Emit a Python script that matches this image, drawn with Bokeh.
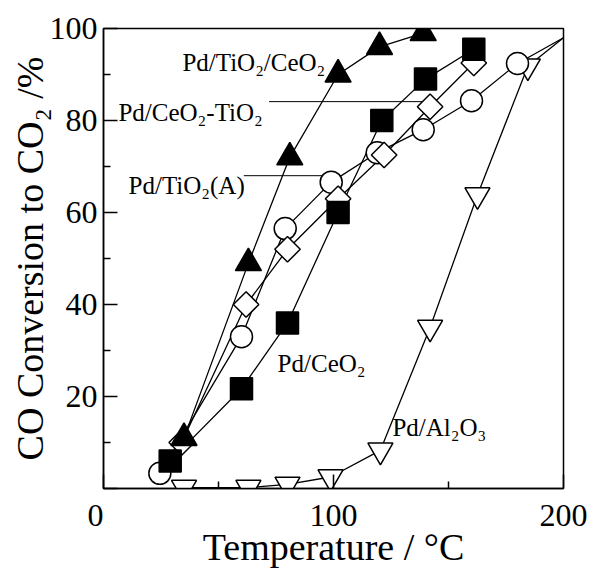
import numpy as np
from bokeh.plotting import figure
from bokeh.models import FixedTicker, Label, Range1d
from bokeh.embed import file_html
from bokeh.resources import INLINE

# ---------------- data ----------------
# Pd/TiO2/CeO2 (filled triangles)
t_tc = [35, 63, 81, 102, 120, 139]
c_tc = [11, 49, 72, 90, 96, 99]
# Pd/CeO2 (filled squares)
t_ce = [29, 60, 80, 102, 121, 140, 161]
c_ce = [6, 21.7, 36, 60, 80, 89, 95.5]
# Pd/CeO2-TiO2 (open diamonds)
t_ct = [34, 62, 80, 102, 122, 142, 161]
c_ct = [10, 40, 52, 63, 72.5, 83, 92.5]
# Pd/TiO2(A) (open circles)
t_ti = [24.5, 60, 79, 99, 119, 139, 160, 180]
c_ti = [3.3, 33, 56.5, 66.6, 73, 78, 84.3, 92.4]
# Pd/Al2O3 (open inverted triangles)
t_al = [35, 63, 80, 98.7, 120.4, 142, 162.6, 184.5]
c_al = [0.2, 0.2, 0.9, 2.5, 8.3, 35, 63.8, 91.8]
# common end point of the curves at the plot corner
t_end = [200]
c_end = [98]

x_ticks = [0, 100, 200]
x_minor = [50, 150]
y_ticks = [0, 20, 40, 60, 80, 100]
y_minor = [10, 30, 50, 70, 90]

labels = ["Pd/TiO\u2082/CeO\u2082", "Pd/CeO\u2082-TiO\u2082", "Pd/TiO\u2082(A)",
          "Pd/CeO\u2082", "Pd/Al\u2082O\u2083"]
label_x = [34.3, 6.5, 10.9, 75.7, 125.6]
label_y = [92.6, 81.7, 65.9, 27.2, 13.3]
# leader lines
lead1_x = [72, 139]
lead1_y = [84.1, 84.1]
lead2_x = [61, 98.7]
lead2_y = [68, 68]

FONT = "Liberation Serif"

p = figure(width=590, height=571, output_backend="svg", toolbar_location=None,
           x_range=Range1d(0, 200), y_range=Range1d(0, 100),
           min_border_left=103, min_border_right=27, min_border_top=28,
           min_border_bottom=83)
p.background_fill_color = "white"
p.border_fill_color = "white"
p.outline_line_color = "black"
p.outline_line_width = 1.5
p.xgrid.visible = False
p.ygrid.visible = False

p.xaxis.ticker = FixedTicker(ticks=x_ticks, minor_ticks=x_minor)
p.yaxis.ticker = FixedTicker(ticks=y_ticks, minor_ticks=y_minor)
p.xaxis.major_label_overrides = {0: "0\u2007"}
p.yaxis.major_label_overrides = {0: ""}

for ax in (p.xaxis[0], p.yaxis[0]):
    ax.major_tick_in = 14
    ax.major_tick_out = 0
    ax.minor_tick_in = 7
    ax.minor_tick_out = 0
    ax.major_tick_line_width = 1.5
    ax.minor_tick_line_width = 1.5
    ax.axis_line_width = 1.5
    ax.major_tick_line_color = "black"
    ax.minor_tick_line_color = "black"
    ax.axis_line_color = "black"
    ax.major_label_text_font = FONT
    ax.major_label_text_font_size = "32px"
    ax.major_label_text_color = "black"
    ax.axis_label_text_font = FONT
    ax.axis_label_text_font_size = "38px"
    ax.axis_label_text_font_style = "normal"
    ax.axis_label_text_color = "black"

p.xaxis.axis_label = "Temperature / \u00b0C"
p.yaxis.axis_label = "CO Conversion to CO\u2082 /%"
p.xaxis.major_label_standoff = 8
p.xaxis.axis_label_standoff = -10
p.yaxis.major_label_standoff = 6
p.yaxis.axis_label_standoff = -4

LW = 1.3
# lines
p.line(t_tc, c_tc, line_color="black", line_width=LW)
p.line(t_ce, c_ce, line_color="black", line_width=LW)
p.line(t_ct, c_ct, line_color="black", line_width=LW)
p.line(t_ti + t_end, c_ti + c_end, line_color="black", line_width=LW)
p.line(t_al + t_end, c_al + c_end, line_color="black", line_width=LW)
p.line(lead1_x, lead1_y, line_color="black", line_width=1)
p.line(lead2_x, lead2_y, line_color="black", line_width=1)

# markers
p.scatter(t_al, c_al, marker="inverted_triangle", size=25, fill_color="white",
          line_color="black", line_width=1.5)
p.scatter(t_ti, c_ti, marker="circle", size=22, fill_color="white",
          line_color="black", line_width=1.5)
p.scatter(t_ct, c_ct, marker="square", angle=np.pi / 4, size=18, fill_color="white",
          line_color="black", line_width=1.5)
p.scatter(t_ce, c_ce, marker="square", size=22, fill_color="black",
          line_color="black", line_width=1.5)
p.scatter(t_tc, c_tc, marker="triangle", size=26, fill_color="black",
          line_color="black", line_width=1.5)

for txt, lx, ly in zip(labels, label_x, label_y):
    p.add_layout(Label(x=lx, y=ly, text=txt, text_font=FONT, text_font_size="25px",
                       text_color="black", text_align="left", text_baseline="alphabetic"))

open("out.html", "w").write(file_html(p, INLINE))
